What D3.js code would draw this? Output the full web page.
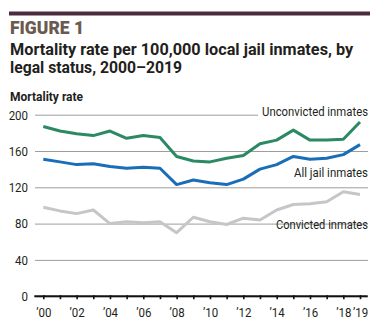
<!DOCTYPE html>
<html>
<head>
<meta charset="utf-8">
<script src="https://cdn.jsdelivr.net/npm/d3@7"></script>
<style>
  body { margin: 0; background: #fff; }
  svg { display: block; font-family: "Liberation Sans Narrow", "Roboto", "Liberation Sans", sans-serif; }
</style>
</head>
<body>
<div id="chart"></div>
<script>
const years = [2000, 2001, 2002, 2003, 2004, 2005, 2006, 2007, 2008, 2009,
               2010, 2011, 2012, 2013, 2014, 2015, 2016, 2017, 2018, 2019]
const labelledYears = [2000, 2002, 2004, 2006, 2008, 2010, 2012, 2014, 2016, 2018, 2019]

// deaths per 100,000 inmates
const unconvicted = [187, 182, 179, 177, 182, 174, 177, 175, 154, 149, 148, 152, 155, 168, 172, 183, 172, 172, 173, 192]
const allInmates  = [151, 148, 145, 146, 143, 141, 142, 141, 123, 128, 125, 123, 129, 140, 145, 154, 151, 152, 156, 167]
const convicted   = [ 98,  94,  91,  95,  80,  82,  81,  82,  70,  87,  82,  79,  86,  84,  95, 101, 102, 104, 115, 112]

const yTicks = [0, 40, 80, 120, 160, 200]

const width = 379
const height = 329
const left = 35
const right = 368

const x = d3.scaleLinear().domain([2000, 2019]).range([43.3, 360])
const y = d3.scaleLinear().domain([0, 200]).range([296.2, 114.7])

const svg = d3.select('#chart')
  .append('svg')
  .attr('width', width)
  .attr('height', height)

// condense a text horizontally to width w, anchored at (x0, y0)
function squeeze(sel, x0, y0, w) {
  sel.each(function() {
    const natural = this.getComputedTextLength()
    const k = Math.min(1, w / natural)
    d3.select(this)
      .attr('x', 0).attr('y', 0)
      .attr('transform', `translate(${x0} ${y0}) scale(${k} 1)`)
  })
}
function narrow(sel, k) {
  sel.each(function() {
    const w = this.getComputedTextLength()
    d3.select(this).attr('textLength', w * k).attr('lengthAdjust', 'spacingAndGlyphs')
  })
}

// header
svg.append('rect')
  .attr('x', 9).attr('y', 11.5)
  .attr('width', 361).attr('height', 4)
  .attr('fill', '#4b2c3f')

svg.append('text')
  .attr('font-size', 17.5).attr('font-weight', 900)
  .attr('fill', '#6a5a4f')
  .text('FIGURE 1')
  .call(squeeze, 10, 33.5, 77)

const title = svg.append('g')
  .attr('font-size', 16.3).attr('font-weight', 'bold')
  .attr('fill', '#231f20')
title.append('text')
  .text('Mortality rate per 100,000 local jail inmates, by')
  .call(squeeze, 10, 54.5, 343)
title.append('text')
  .text('legal status, 2000–2019')
  .call(squeeze, 10, 73, 172)

svg.append('text')
  .attr('font-size', 12).attr('font-weight', 'bold')
  .attr('fill', '#231f20')
  .text('Mortality rate')
  .call(squeeze, 10, 100.5, 74)

// y axis with gridlines
const yAxis = d3.axisLeft(y)
  .tickValues(yTicks)
  .tickSize(-(right - left))
  .tickPadding(7)

svg.append('g')
  .attr('transform', `translate(${left} 0)`)
  .call(yAxis)
  .call(g => g.select('.domain').remove())
  .call(g => g.selectAll('.tick line').attr('stroke', '#9d9d9d').attr('stroke-width', 1))
  .call(g => g.selectAll('.tick text')
    .attr('font-size', 13.5).attr('fill', '#231f20')
    .attr('font-family', '"Liberation Sans Narrow", "Roboto", sans-serif')
    .call(narrow, 0.85))

// series
const series = [
  { name: 'Unconvicted inmates', values: unconvicted, color: '#2b8a64' },
  { name: 'All jail inmates', values: allInmates, color: '#1a6db7' },
  { name: 'Convicted inmates', values: convicted, color: '#c6c6c6' }
]

// white box under the unconvicted label breaks the 200 gridline
svg.append('rect')
  .attr('x', 258).attr('y', 102)
  .attr('width', 111).attr('height', 17)
  .attr('fill', '#fff')

const line = d3.line()
  .x((d, i) => x(years[i]))
  .y(d => y(d))

svg.append('g')
  .selectAll('path')
  .data(series.slice().reverse())
  .join('path')
  .attr('d', d => line(d.values))
  .attr('fill', 'none')
  .attr('stroke', d => d.color)
  .attr('stroke-width', 3)
  .attr('stroke-linejoin', 'round')

// series labels, right-aligned
const labels = [
  { text: 'Unconvicted inmates', y: 115.7, w: 106 },
  { text: 'All jail inmates', y: 177.3, w: 74 },
  { text: 'Convicted inmates', y: 229.3, w: 92 }
]

svg.append('g')
  .attr('font-size', 13.5)
  .attr('fill', '#231f20')
  .attr('text-anchor', 'end')
  .selectAll('text')
  .data(labels)
  .join('text')
  .text(d => d.text)
  .each(function(d) { d3.select(this).call(squeeze, 368, d.y, d.w) })

// x axis
svg.append('line')
  .attr('x1', 34.3).attr('x2', 367.7)
  .attr('y1', y(0)).attr('y2', y(0))
  .attr('stroke', '#111').attr('stroke-width', 2)

const xAxis = d3.axisBottom(x)
  .tickValues(years)
  .tickSize(4)
  .tickPadding(8)
  .tickFormat(d => labelledYears.includes(d) ? '’' + String(d).slice(2) : '')

svg.append('g')
  .attr('transform', `translate(0 ${y(0) - 1})`)
  .call(xAxis)
  .call(g => g.select('.domain').remove())
  .call(g => g.selectAll('.tick line').attr('stroke', '#111').attr('stroke-width', 1.6))
  .call(g => g.selectAll('.tick text')
    .filter(d => labelledYears.includes(d))
    .attr('font-size', 13.5).attr('fill', '#231f20')
    .attr('font-family', '"Liberation Sans Narrow", "Roboto", sans-serif')
    .call(narrow, 0.85))
</script>
</body>
</html>
